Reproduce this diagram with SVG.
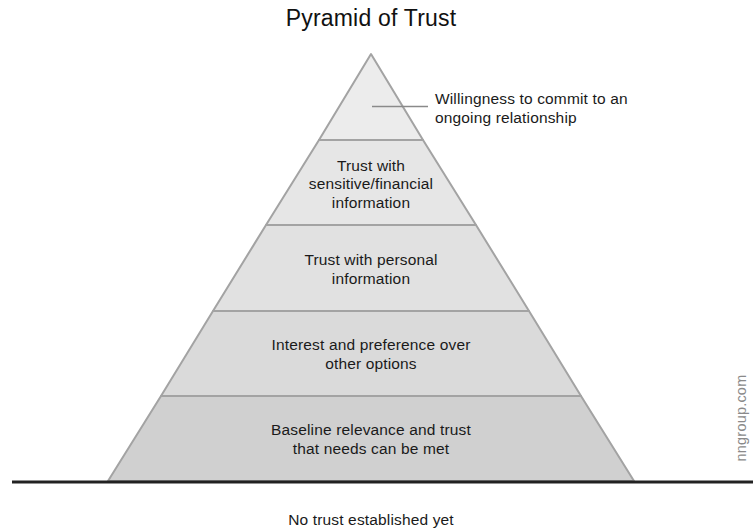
<svg xmlns="http://www.w3.org/2000/svg" width="753" height="529" viewBox="0 0 753 529">
  <style>
    .tier { stroke: #a3a3a3; stroke-width: 2; stroke-linejoin: round; }
    .lbl { font-family: "Liberation Sans", Arial, sans-serif; font-size: 15.5px; letter-spacing: 0.15px; fill: #1a1a1a; text-anchor: middle; }
    .side { text-anchor: start; }
    .title { font-family: "Liberation Sans", Arial, sans-serif; font-size: 23px; letter-spacing: 0.2px; fill: #111; text-anchor: middle; }
    .credit { font-family: "Liberation Sans", Arial, sans-serif; font-size: 14.5px; letter-spacing: 0.2px; fill: #8a8a8a; text-anchor: middle; }
  </style>
  <rect width="753" height="529" fill="#ffffff"/>

  <text class="title" x="371" y="26">Pyramid of Trust</text>

  <!-- tiers, bottom to top -->
  <g id="tier-baseline">
    <polygon class="tier" fill="#d0d0d0" points="161,396 581,396 634,481 108,481"/>
    <text class="lbl" x="371" y="435">Baseline relevance and trust</text>
    <text class="lbl" x="371" y="453.5">that needs can be met</text>
  </g>
  <g id="tier-interest">
    <polygon class="tier" fill="#dadada" points="213,311 529,311 581,396 161,396"/>
    <text class="lbl" x="371" y="350">Interest and preference over</text>
    <text class="lbl" x="371" y="368.5">other options</text>
  </g>
  <g id="tier-personal">
    <polygon class="tier" fill="#e1e1e1" points="266,225 476,225 529,311 213,311"/>
    <text class="lbl" x="371" y="265">Trust with personal</text>
    <text class="lbl" x="371" y="283.5">information</text>
  </g>
  <g id="tier-financial">
    <polygon class="tier" fill="#e6e6e6" points="319,140 423,140 476,225 266,225"/>
    <text class="lbl" x="371" y="170.5">Trust with</text>
    <text class="lbl" x="371" y="189">sensitive/financial</text>
    <text class="lbl" x="371" y="207.5">information</text>
  </g>
  <g id="tier-commit">
    <polygon class="tier" fill="#ececec" points="371,54 423,140 319,140"/>
    <text class="lbl side" x="435" y="104">Willingness to commit to an</text>
    <text class="lbl side" x="435" y="123">ongoing relationship</text>
  </g>

  <g id="connectors">
    <line x1="372" y1="106.5" x2="428" y2="106.5" stroke="#8a8a8a" stroke-width="1.5"/>
    <line x1="12" y1="482" x2="753" y2="482" stroke="#222222" stroke-width="3"/>
  </g>

  <text class="lbl" x="371" y="525">No trust established yet</text>
  <text class="credit" transform="translate(746,418) rotate(-90)">nngroup.com</text>
</svg>
